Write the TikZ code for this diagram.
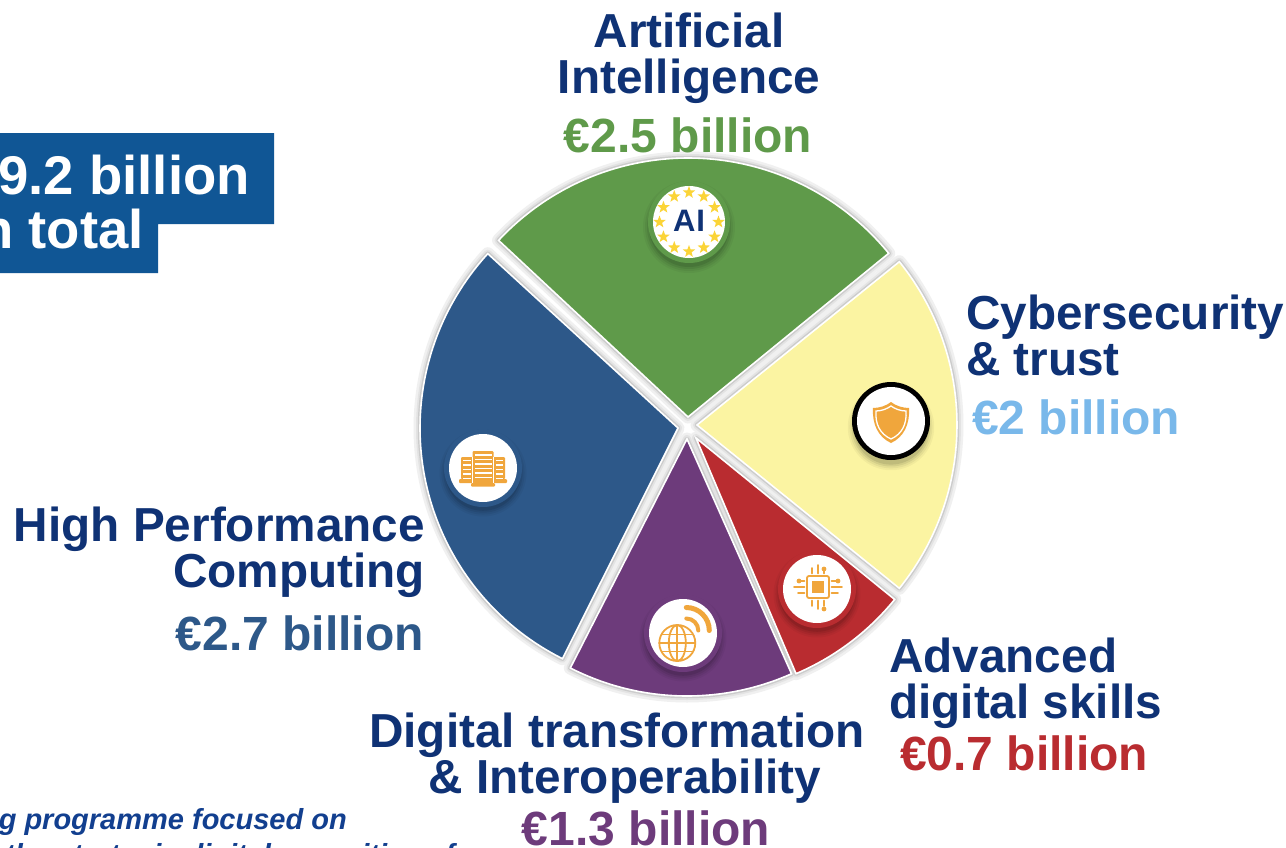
\documentclass[tikz,border=0pt]{standalone}
\usepackage{fontspec}
\setmainfont{Liberation Sans}
\usetikzlibrary{shapes.geometric,calc}
\definecolor{cgreen}{HTML}{5F9A4A}
\definecolor{cyellow}{HTML}{FBF4A2}
\definecolor{cred}{HTML}{B92C30}
\definecolor{cpurple}{HTML}{6D3B7B}
\definecolor{cblue}{HTML}{2D5889}
\definecolor{cnavy}{HTML}{0F3275}
\definecolor{csky}{HTML}{79B8EA}
\definecolor{cban}{HTML}{105695}
\definecolor{cital}{HTML}{123F8F}
\definecolor{corange}{HTML}{F0A63C}
\definecolor{cstar}{HTML}{FBD437}
\newcommand{\sectorpath}[5]{(#1,#2) -- ++(#3:#5) arc[start angle=#3,end angle=#4,radius=#5] -- cycle}
\newcommand{\badge}[4]{% x y ringcolor whiteRadius
  \foreach \r/\o in {46/.04,44/.05,42/.07,40/.09}{\fill[black,opacity=\o] (#1,#2+5) circle[radius=\r*#4/36];}
  \fill[#3] (#1,#2) circle[radius=#4+5];
  \fill[white] (#1,#2) circle[radius=#4];
}
\tikzset{
  x=1pt,y=-1pt,
  lbl/.style={font=\fontsize{47.7}{46}\selectfont\bfseries,text=cnavy,inner sep=0pt},
  amt/.style={font=\fontsize{48}{48}\selectfont\bfseries,inner sep=0pt},
  ban/.style={font=\fontsize{54.5}{54.5}\selectfont\bfseries,text=white,inner sep=0pt,anchor=base east},
  ital/.style={font=\fontsize{29}{29}\selectfont\bfseries\itshape,text=cital,inner sep=0pt,anchor=base east},
  icn/.style={line width=1.8pt,draw=corange,line cap=round},
  sh1/.style={draw=black!6,line width=13pt,line join=round},
  sh2/.style={draw=black!11,line width=8pt,line join=round},
  sh3/.style={draw=black!20,line width=4.5pt,line join=round},
  wedge/.style={fill=#1,draw=white,line width=1.6pt,line join=miter},
  eustar/.style={fill=cstar,star,star points=5,star point ratio=2.4,minimum size=13pt,inner sep=0pt}
}
\begin{document}
\begin{tikzpicture}
\useasboundingbox (0,0) rectangle (1286,847);
\clip (0,0) rectangle (1286,847);
\fill[white] (0,0) rectangle (1286,847);
% banner
\fill[cban] (0,133) -- (274,133) -- (274,224) -- (158,224) -- (158,273) -- (0,273) -- cycle;
\node[ban] (b1) at (250,194) {9.2 billion};
\node[ban] (b2) at (144,248) {n total};
% shadows
\foreach \s in {sh1,sh2,sh3}{
  \draw[\s] \sectorpath{688}{417}{-39.2}{-137}{259};
  \draw[\s] \sectorpath{697}{425}{38.9}{-38.9}{260};
  \draw[\s] \sectorpath{696}{438}{39.1}{67}{256};
  \draw[\s] \sectorpath{687}{439}{66}{117}{257};
  \draw[\s] \sectorpath{678}{428}{-137.5}{-243.4}{258};
}
% sectors
\filldraw[wedge=cgreen] \sectorpath{688}{417}{-39.2}{-137}{259};
\filldraw[wedge=cyellow] \sectorpath{697}{425}{38.9}{-38.9}{260};
\filldraw[wedge=cred] \sectorpath{696}{438}{39.1}{67}{256};
\filldraw[wedge=cpurple] \sectorpath{687}{439}{66}{117}{257};
\filldraw[wedge=cblue] \sectorpath{678}{428}{-137.5}{-243.4}{258};
% AI badge
\badge{689}{222}{cgreen}{36}
\foreach \a in {0,30,...,330}{\node[eustar] (s\a) at ($(689,222)+(\a:29.5)$) {};}
\node[inner sep=0pt,font=\fontsize{31}{31}\selectfont\bfseries,text=cnavy] (ai) at (689,221) {A\kern1pt I};
% shield badge
\foreach \r/\o in {46/.04,44/.05,42/.07,40/.09}{\fill[black,opacity=\o] (891,427) circle[radius=\r*.94];}
\fill[black] (891,421) circle[radius=39];
\fill[white] (891,421) circle[radius=34];
\begin{scope}[shift={(891,421)}]
\fill[corange] (0,-19) .. controls (5,-15) and (12,-13) .. (18,-13) .. controls (19,3) and (13,16) .. (0,22) .. controls (-13,16) and (-19,3) .. (-18,-13) .. controls (-12,-13) and (-5,-15) .. (0,-19) -- cycle;
\draw[white,line width=1.3pt] (0,-15) .. controls (4,-12) and (10,-10) .. (15,-10) .. controls (16,3) and (11,13) .. (0,18) .. controls (-11,13) and (-16,3) .. (-15,-10) .. controls (-10,-10) and (-4,-12) .. (0,-15) -- cycle;
\end{scope}
% server badge
\badge{483}{468}{cblue}{34}
\begin{scope}[shift={(483,468)}]
\fill[corange,rounded corners=1pt] (-22,-11) rectangle (22,11);
\fill[corange,rounded corners=1pt] (-24,11) rectangle (24,15);
\fill[corange,rounded corners=1pt] (-10.5,-17) rectangle (10.5,15);
\fill[corange,rounded corners=1pt] (-12,15) rectangle (12,18.5);
\draw[white,line width=.9pt] (-10.5,-11) -- (-10.5,15) (10.5,-11) -- (10.5,15);
\foreach \y in {-13,-8.5,-4,.5,5,9.5}{
  \draw[white,line width=1.7pt] (-8.5,\y) -- (8.5,\y);
  \draw[white,line width=1.2pt] (-20,\y+1) -- (-12.5,\y+1) (12.5,\y+1) -- (20,\y+1);
}
\end{scope}
% globe badge
\badge{683}{633}{cpurple}{34}
\begin{scope}[shift={(683,633)}]
\draw[icn] (-5.7,10) circle[radius=18];
\draw[icn] (-5.7,10) ellipse[x radius=8.5,y radius=18];
\draw[icn] (-5.7,-8) -- (-5.7,28) (-23.7,10) -- (12.3,10) (-21.5,1.5) -- (10.1,1.5) (-21.5,18.5) -- (10.1,18.5);
\draw[corange,line width=5pt,line cap=round] (3.3,-25.5) arc[start angle=-90,end angle=0,radius=23];
\draw[corange,line width=4pt,line cap=round] (3.3,-14.5) arc[start angle=-90,end angle=0,radius=12];
\end{scope}
% chip badge
\badge{817}{589}{cred}{34}
\begin{scope}[shift={(817,589)}]
\draw[corange,line width=1.8pt,rounded corners=2pt] (-10,-13) rectangle (12,9);
\fill[corange] (-5,-8) rectangle (7,4);
\foreach \p in {-5,1,7}{
  \draw[icn] (\p,-15.5) -- (\p,-21);
  \draw[icn] (\p,11.5) -- (\p,17);
  \draw[icn] (-12.5,\p-3) -- (-19,\p-3);
  \draw[icn] (14.5,\p-3) -- (21,\p-3);
}
\draw[icn] (1,-21) -- (1,-24) (1,17) -- (1,20) (-19,-2) -- (-23,-2) (21,-2) -- (25,-2);
\fill[corange] (7,-20) circle[radius=2.4] (7,20) circle[radius=2.4] (-18,-8) circle[radius=2.4] (21,-8) circle[radius=2.4];
\end{scope}
% labels
\node[lbl,align=center,anchor=base] (l1) at (689,93) {Artificial\\Intelligence};
\node[amt,text=cgreen,anchor=base] (a1) at (688,152) {€2.5 billion};
\node[lbl,align=left,anchor=base west] (l2) at (966,375) {Cybersecurity\\\& trust};
\node[amt,text=csky,anchor=base west] (a2) at (972,434) {€2 billion};
\node[lbl,align=right,anchor=base east] (l3) at (425,587) {High Performance\\Computing};
\node[amt,text=cblue,anchor=base east] (a3) at (424,650) {€2.7 billion};
\node[lbl,align=center,anchor=base] (l4) at (617,793) {Digital transformation\\\hspace*{16pt}\& Interoperability};
\node[amt,text=cpurple,anchor=base] (a4) at (646,845) {€1.3 billion};
\node[lbl,align=left,anchor=base west] (l5) at (889,718) {Advanced\\digital skills};
\node[amt,text=cred,anchor=base west] (a5) at (900,770) {€0.7 billion};
% italic text
\node[ital] (t1) at (347,829) {g programme focused on};
\node[ital] (t2) at (455,864) {the strategic digital capacities of};
\end{tikzpicture}
\end{document}
